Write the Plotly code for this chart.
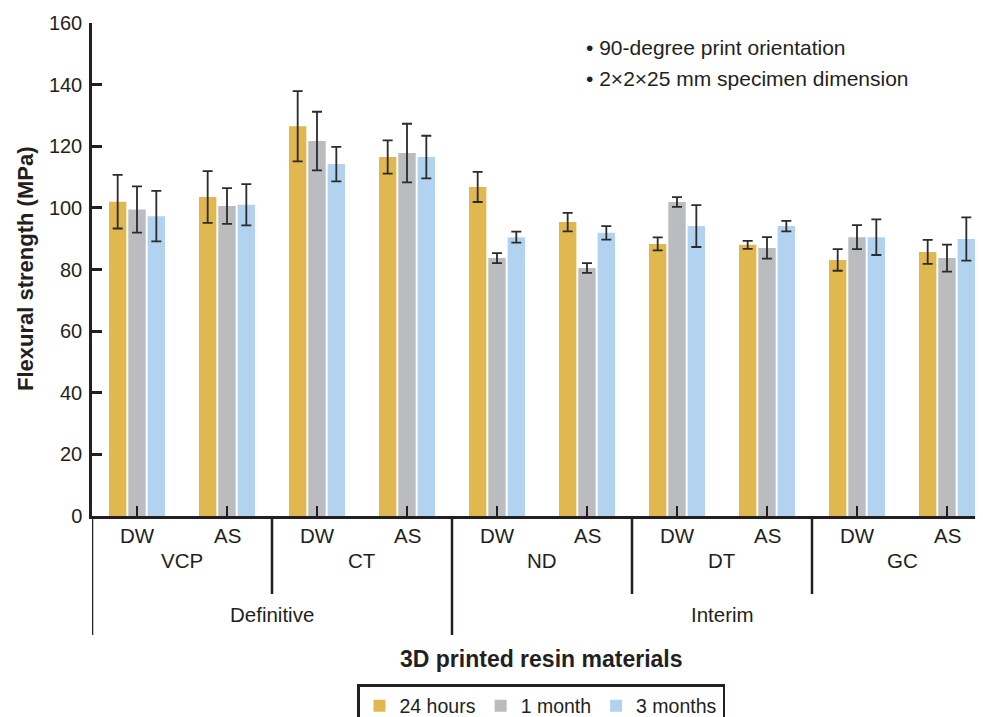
import plotly.graph_objects as go

# ---- data ----
subgroups = ["DW", "AS", "DW", "AS", "DW", "AS", "DW", "AS", "DW", "AS"]
materials = ["VCP", "CT", "ND", "DT", "GC"]
classes = ["Definitive", "Interim"]
series_names = ["24 hours", "1 month", "3 months"]

h24 = [102.0, 103.5, 126.5, 116.5, 106.8, 95.4, 88.3, 88.0, 83.1, 85.7]
h24_err = [8.7, 8.4, 11.4, 5.4, 4.9, 3.0, 2.1, 1.3, 3.5, 3.9]
m1 = [99.5, 100.6, 121.7, 117.8, 83.7, 80.5, 101.9, 87.0, 90.5, 83.7]
m1_err = [7.5, 5.8, 9.5, 9.5, 1.6, 1.6, 1.6, 3.5, 3.9, 4.4]
m3 = [97.3, 101.0, 114.2, 116.5, 90.5, 91.9, 94.1, 94.1, 90.5, 89.9]
m3_err = [8.2, 6.7, 5.6, 6.9, 1.8, 2.2, 6.8, 1.7, 5.8, 7.0]

y_ticks = [0, 20, 40, 60, 80, 100, 120, 140, 160]

# ---- styling ----
FONT = "Liberation Sans, Arial, Helvetica, sans-serif"
INK = "#231F20"
colors = ["#E0B84F", "#BBBCC0", "#B1D3EF"]

x_idx = list(range(len(subgroups)))

fig = go.Figure()
for name, vals, errs, col in zip(series_names, [h24, m1, m3], [h24_err, m1_err, m3_err], colors):
    fig.add_trace(go.Bar(
        x=x_idx, y=vals, name=name,
        marker=dict(color=col, line=dict(width=0)),
        error_y=dict(type="data", array=errs, visible=True,
                     color="#2b2b2b", thickness=1.8, width=5),
    ))

# page geometry (page pixels; the page body has an 8px margin)
OFF = 8
W, H = 983 - OFF, 717 - OFF
PLOT_L, PLOT_R, PLOT_T, PLOT_B = 92, 983, 23, 516   # page pixels
L = PLOT_L - OFF
T = PLOT_T - OFF
R = 983 - PLOT_R
B = (H + OFF) - PLOT_B
plot_w = PLOT_R - PLOT_L
plot_h = PLOT_B - PLOT_T

def py(pix):
    return (PLOT_B - pix) / plot_h

def px(pix):
    return (pix - PLOT_L) / plot_w

annotations = []
for i, s in enumerate(subgroups):
    annotations.append(dict(x=i, y=py(535), xref="x", yref="paper", text=s,
                            showarrow=False, xanchor="center", yanchor="middle",
                            font=dict(size=20.5, color=INK, family=FONT)))
for k, m in enumerate(materials):
    annotations.append(dict(x=2 * k + 0.5, y=py(560), xref="x", yref="paper", text=m,
                            showarrow=False, xanchor="center", yanchor="middle",
                            font=dict(size=20.5, color=INK, family=FONT)))
annotations.append(dict(x=1.5, y=py(614), xref="x", yref="paper", text=classes[0],
                        showarrow=False, xanchor="center", yanchor="middle",
                        font=dict(size=20.5, color=INK, family=FONT)))
annotations.append(dict(x=6.5, y=py(614), xref="x", yref="paper", text=classes[1],
                        showarrow=False, xanchor="center", yanchor="middle",
                        font=dict(size=20.5, color=INK, family=FONT)))
annotations.append(dict(x=px(25), y=py(269), xref="paper", yref="paper",
                        text="<b>Flexural strength (MPa)</b>", textangle=-90,
                        showarrow=False, xanchor="center", yanchor="middle",
                        font=dict(size=22, color=INK, family=FONT)))
annotations.append(dict(x=px(541), y=py(659), xref="paper", yref="paper",
                        text="<b>3D printed resin materials</b>",
                        showarrow=False, xanchor="center", yanchor="middle",
                        font=dict(size=23, color=INK, family=FONT)))
annotations.append(dict(x=px(584), y=py(48), xref="paper", yref="paper",
                        text="• 90-degree print orientation",
                        showarrow=False, xanchor="left", yanchor="middle",
                        font=dict(size=21, color=INK, family=FONT)))
annotations.append(dict(x=px(584), y=py(78), xref="paper", yref="paper",
                        text="• 2×2×25 mm specimen dimension",
                        showarrow=False, xanchor="left", yanchor="middle",
                        font=dict(size=21, color=INK, family=FONT)))

shapes = []
for xs in [1.5, 5.5, 7.5]:
    shapes.append(dict(type="line", xref="x", yref="paper", x0=xs, x1=xs,
                       y0=0, y1=py(594), line=dict(color=INK, width=2.5)))
for xs in [-0.5, 3.5]:
    shapes.append(dict(type="line", xref="x", yref="paper", x0=xs, x1=xs,
                       y0=0, y1=py(635), line=dict(color=INK, width=2.5)))

fig.update_layout(
    width=W, height=H,
    margin=dict(l=L, r=R, t=T, b=B, autoexpand=False),
    paper_bgcolor="white", plot_bgcolor="white",
    barmode="group", bargap=0.356, bargroupgap=0.1,
    font=dict(family=FONT, color=INK, size=20),
    showlegend=True,
    legend=dict(orientation="h", x=px(357), y=py(684),
                xanchor="left", yanchor="top",
                bordercolor=INK, borderwidth=2.5,
                font=dict(size=19.5, color=INK, family=FONT),
                itemwidth=30, tracegroupgap=0),
    annotations=annotations,
    shapes=shapes,
)
fig.update_xaxes(range=[-0.5, 9.4], showgrid=False, zeroline=False,
                 showline=True, linecolor=INK, linewidth=2.5,
                 tickvals=x_idx, ticks="inside", ticklen=10, tickwidth=2,
                 tickcolor=INK, showticklabels=False)
fig.update_yaxes(range=[0, 160], tickvals=y_ticks, showgrid=False, zeroline=False,
                 showline=True, linecolor=INK, linewidth=2.5,
                 ticks="inside", ticklen=10, tickwidth=2.5, tickcolor=INK,
                 tickfont=dict(size=20, color=INK, family=FONT),
                 ticklabelstandoff=3)

fig.write_html("out.html")
